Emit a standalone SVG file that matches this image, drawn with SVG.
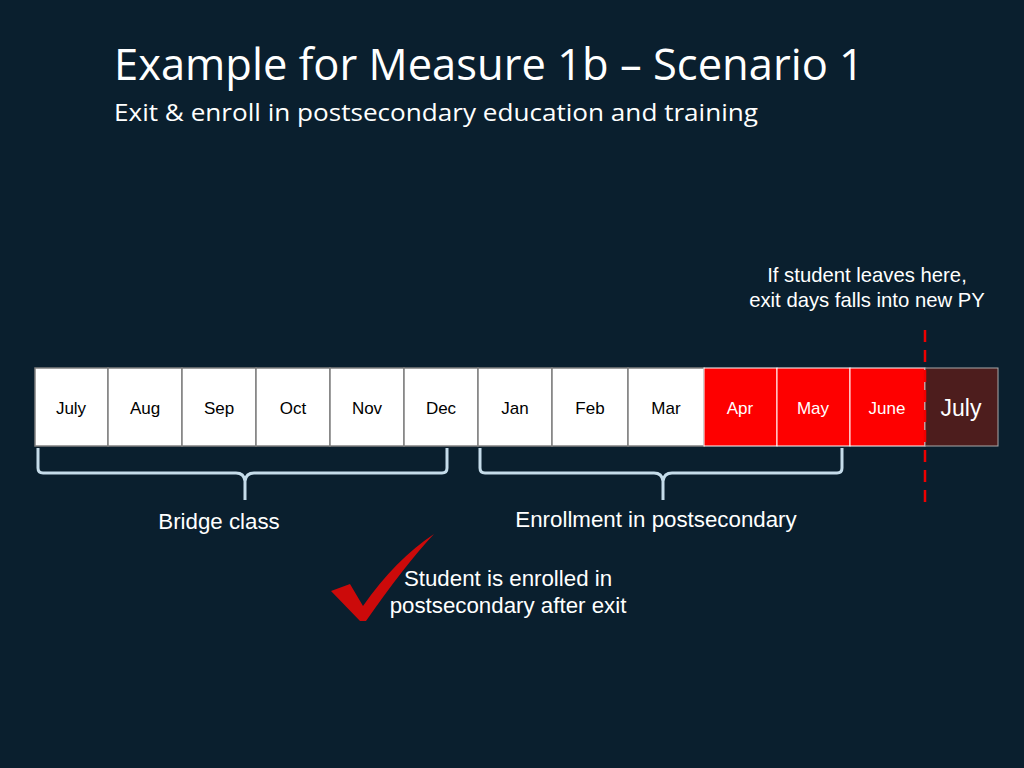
<svg xmlns="http://www.w3.org/2000/svg" width="1024" height="768" viewBox="0 0 1024 768">
<style>
.t{font-family:"Liberation Sans",Arial,sans-serif;fill:#fff}
.h{font-family:"Open Sans",sans-serif;fill:#fff}
.m{font-family:"Liberation Sans",Arial,sans-serif;font-size:17px;fill:#000;text-anchor:middle}
.cell{fill:#fff;stroke:#808080;stroke-width:1.5}
.red{fill:#fe0000;stroke:#fff;stroke-width:1}
.br{fill:none;stroke:#c5dcea;stroke-width:3;stroke-linejoin:round}
</style>
<rect width="1024" height="768" fill="#0a1f2e"/>
<text class="h" x="114" y="80" font-size="44" textLength="750" lengthAdjust="spacingAndGlyphs">Example for Measure 1b – Scenario 1</text>
<text class="h" x="114" y="121" font-size="23" textLength="644" lengthAdjust="spacingAndGlyphs">Exit &amp; enroll in postsecondary education and training</text>
<g id="months">
<rect class="cell" x="35" y="368" width="73" height="78"/><text class="m" x="71" y="414">July</text>
<rect class="cell" x="108" y="368" width="74" height="78"/><text class="m" x="145" y="414">Aug</text>
<rect class="cell" x="182" y="368" width="74" height="78"/><text class="m" x="219" y="414">Sep</text>
<rect class="cell" x="256" y="368" width="74" height="78"/><text class="m" x="293" y="414">Oct</text>
<rect class="cell" x="330" y="368" width="74" height="78"/><text class="m" x="367" y="414">Nov</text>
<rect class="cell" x="404" y="368" width="74" height="78"/><text class="m" x="441" y="414">Dec</text>
<rect class="cell" x="478" y="368" width="74" height="78"/><text class="m" x="515" y="414">Jan</text>
<rect class="cell" x="552" y="368" width="76" height="78"/><text class="m" x="590" y="414">Feb</text>
<rect class="cell" x="628" y="368" width="76" height="78"/><text class="m" x="666" y="414">Mar</text>
<rect class="red" x="704" y="368" width="73" height="78"/><text class="m" x="740" y="414" style="fill:#fff">Apr</text>
<rect class="red" x="777" y="368" width="73" height="78"/><text class="m" x="813" y="414" style="fill:#fff">May</text>
<rect class="red" x="850" y="368" width="75" height="78"/><text class="m" x="887" y="414" style="fill:#fff">June</text>
<rect x="925" y="368" width="73" height="78" fill="#4d1d1d" stroke="#aaa" stroke-width="1"/><text class="t" x="961" y="416" font-size="23" text-anchor="middle">July</text>
</g>
<g id="connectors">
<path class="br" d="M38 448 V468 Q38 473 43 473 H236 Q244 473 245 481 V500 M245 500 V481 Q246 473 254 473 H442 Q447 473 447 468 V448"/>
<path class="br" d="M480 448 V468 Q480 473 485 473 H654 Q662 473 663 481 V500 M663 500 V481 Q664 473 672 473 H837 Q842 473 842 468 V448"/>
<line x1="925" y1="330" x2="925" y2="505" stroke="#e00" stroke-width="2.5" stroke-dasharray="12,8"/>
</g>
<text class="t" x="867" y="282" font-size="20.3" text-anchor="middle">If student leaves here,</text>
<text class="t" x="867" y="307" font-size="20.3" text-anchor="middle">exit days falls into new PY</text>
<text class="t" x="219" y="529" font-size="22.3" text-anchor="middle">Bridge class</text>
<text class="t" x="656" y="527" font-size="22.3" text-anchor="middle">Enrollment in postsecondary</text>
<g id="check"><path d="M331 591 L350 584 L363 606 Q395 560 434 534 Q405 565 366 621 L360 621 Z" fill="#cc0a0a"/></g>
<text class="t" x="508" y="586" font-size="22.3" text-anchor="middle">Student is enrolled in</text>
<text class="t" x="508" y="613" font-size="22.3" text-anchor="middle">postsecondary after exit</text>
</svg>
